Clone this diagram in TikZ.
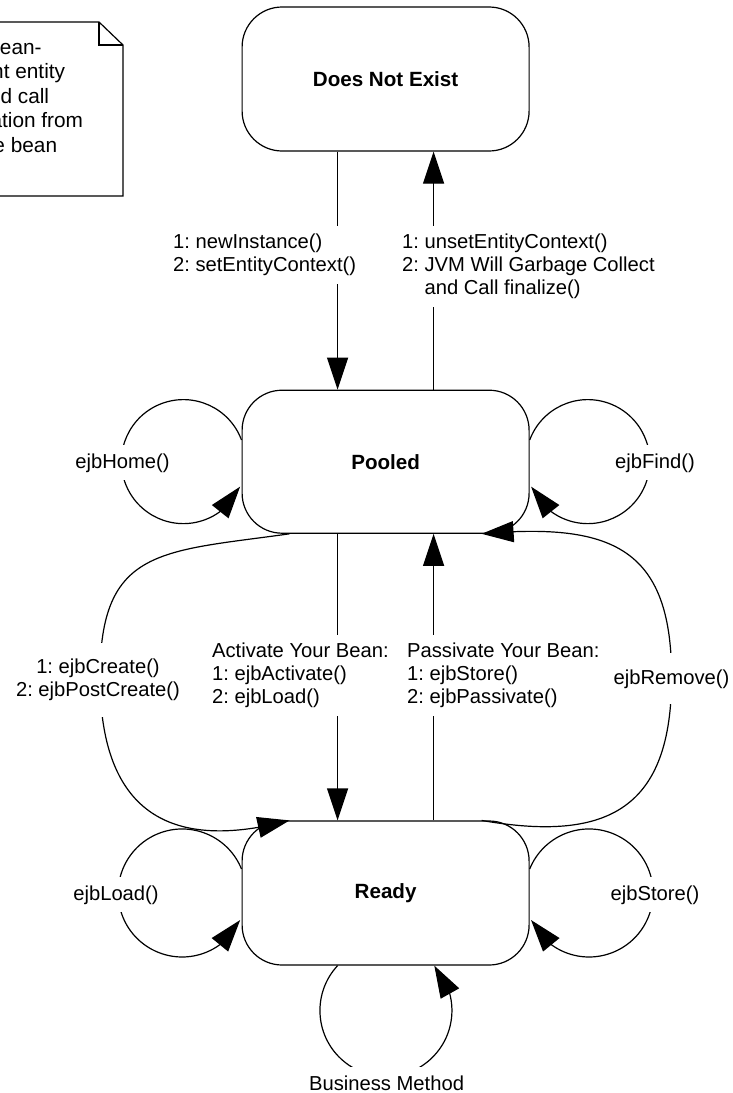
\documentclass[tikz,border=0pt]{standalone}
\usepackage{fontspec}
\setmainfont{Liberation Sans}
\usetikzlibrary{arrows.meta,bending,calc}
\frenchspacing
\begin{document}
\begin{tikzpicture}[x=0.5pt,y=0.5pt,
  state/.style={draw, line width=0.6pt, rounded corners=20pt, minimum width=143.5pt,
    minimum height=72pt, inner sep=0pt, font=\bfseries\fontsize{10.3}{12}\selectfont},
  arr/.style={line width=0.6pt, -{Triangle[length=16pt,width=10.5pt,flex]}},
  lbl/.style={fill=white, font=\fontsize{10.1}{11.6}\selectfont, inner xsep=2pt, inner ysep=4pt},
  notetext/.style={font=\fontsize{10.4}{12}\selectfont, inner sep=0pt, anchor=base east},
  noteline/.style={line width=0.6pt, line join=miter}
]
\useasboundingbox (0,0) rectangle (733,-1093);

% note (clipped at the left edge, as in the reference)
\begin{scope}
  \clip (0,0) rectangle (733,-1093);
  \draw[noteline] (-20,-22) -- (99,-22) -- (123,-45) -- (123,-196) -- (-20,-196);
  \draw[noteline] (99,-22) -- (99,-45) -- (123,-45);
  \node[notetext] (n1) at (42,-54) {a bean-};
  \node[notetext] (n2) at (65.5,-78.5) {persistent entity};
  \node[notetext] (n3) at (49.5,-103) {method call};
  \node[notetext] (n4) at (83.5,-127.5) {an invocation from};
  \node[notetext] (n5) at (57.5,-152) {to the bean};
\end{scope}

% states
\node[state] (dne) at (385.6,-79) {Does Not Exist};
\node[state, minimum height=71.5pt] (pooled) at (385.6,-461.7) {Pooled};
\node[state] (ready) at (385.6,-893) {Ready};

% straight transitions
\draw[arr] ($(dne.south)+(-48,0)$) -- ($(pooled.north)+(-48,0)$);
\draw[arr] ($(pooled.north)+(48,0)$) -- ($(dne.south)+(48,0)$);
\draw[arr] ($(pooled.south)+(-48,0)$) -- ($(ready.north)+(-48,0)$);
\draw[arr] ($(ready.north)+(48,0)$) -- ($(pooled.south)+(48,0)$);

% big loops
\coordinate (lmid) at ($(pooled.south)!0.5!(ready.north)+(-285.6,0)$);
\coordinate (rmid) at ($(pooled.south)!0.5!(ready.north)+(286,0)$);
\draw[arr] ($(pooled.south)+(-96,0)$) to[out=188,in=90,looseness=1.4] (lmid)
  to[out=-90,in=195,looseness=1.4] ($(ready.north)+(-96,0)$);
\draw[arr] ($(ready.north)+(96,0)$) to[out=-10,in=-90,looseness=1.4] (rmid)
  to[out=90,in=5,looseness=1.4] ($(pooled.south)+(96,0)$);

% self loops
\draw[arr] ($(pooled.west)+(0,21.7)$) arc[start angle=20.4, end angle=336.2, radius=62];
\draw[arr] ($(pooled.east)+(0,21.7)$) arc[start angle=159.6, end angle=-156.2, radius=62];
\draw[arr] ($(ready.west)+(0,24)$) arc[start angle=22, end angle=335, radius=64];
\draw[arr] ($(ready.east)+(0,24)$) arc[start angle=158, end angle=-155, radius=64];
\draw[arr] ($(ready.south)+(-48,0)$) arc[start angle=137.1, end angle=402.9, radius=66];

% labels
\node[lbl, align=left, anchor=north west] (l1) at (168.7,-225.4)
  {1: newInstance()\\2: setEntityContext()};
\node[lbl, align=left, anchor=north west] (l2) at (397.7,-225.4)
  {1: unsetEntityContext()\\2: JVM Will Garbage Collect\\\hphantom{2: }and Call finalize()};
\node[lbl, align=left, anchor=north west] (l3) at (207.7,-634.4)
  {Activate Your Bean:\\1: ejbActivate()\\2: ejbLoad()};
\node[lbl, align=left, anchor=north west] (l4) at (402.7,-634.4)
  {Passivate Your Bean:\\1: ejbStore()\\2: ejbPassivate()};
\node[lbl, align=center, anchor=north, inner ysep=8pt] (l5) at (98,-642.4)
  {1: ejbCreate()\\2: ejbPostCreate()};
\node[lbl, anchor=base, inner ysep=8pt] (l6) at (671.5,-684) {ejbRemove()};
\node[lbl, anchor=base] (l7) at (122.5,-468) {ejbHome()};
\node[lbl, anchor=base] (l8) at (655,-468) {ejbFind()};
\node[lbl, anchor=base] (l9) at (116,-900) {ejbLoad()};
\node[lbl, anchor=base] (l10) at (655,-900) {ejbStore()};
\node[lbl, anchor=base] (l11) at (386.6,-1090) {Business Method};
\end{tikzpicture}
\end{document}
